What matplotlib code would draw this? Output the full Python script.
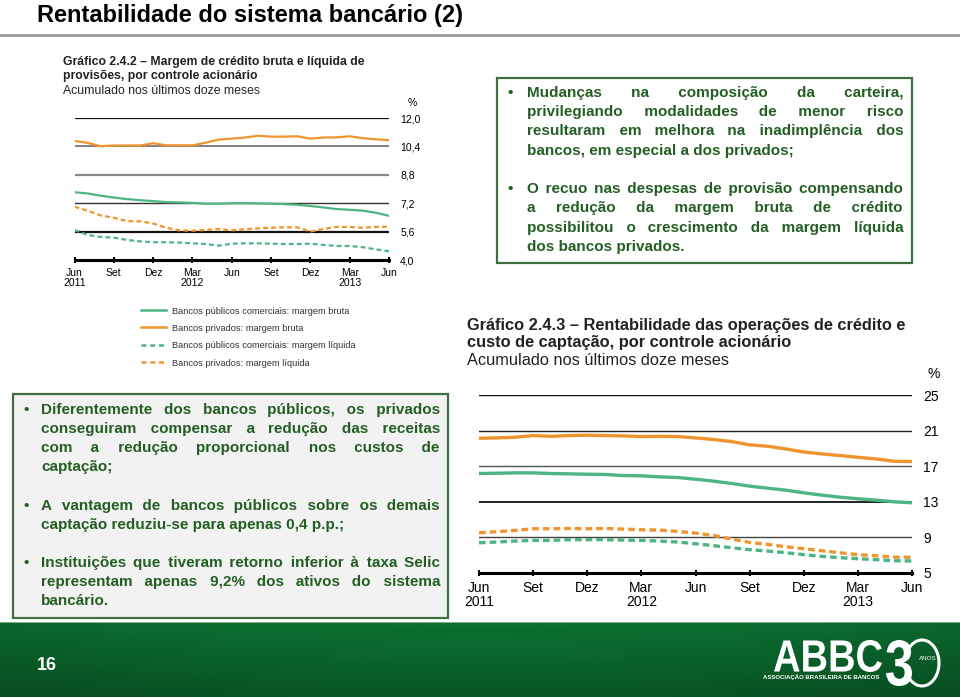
import matplotlib
matplotlib.use('Agg')
import matplotlib.pyplot as plt
import numpy as np
from matplotlib.lines import Line2D
from matplotlib.patches import Rectangle, PathPatch, Arc
from matplotlib.textpath import TextPath
from matplotlib.font_manager import FontProperties
from matplotlib.transforms import Affine2D

plt.rcParams['font.family'] = ['Liberation Sans', 'DejaVu Sans']

W, H = 960, 697

# eixo x comum: meses de jun/2011 a jun/2013
meses = list(range(25))
tick_pos = [0, 3, 6, 9, 12, 15, 18, 21, 24]
tick_labels = ['Jun\n2011', 'Set', 'Dez', 'Mar\n2012', 'Jun', 'Set', 'Dez', 'Mar\n2013', 'Jun']

# Gráfico 2.4.2 - margem de crédito (%)
pub_bruta_242 = [7.82, 7.75, 7.62, 7.52, 7.43, 7.37, 7.32, 7.26, 7.24, 7.22, 7.17, 7.17, 7.20,
                 7.20, 7.19, 7.17, 7.15, 7.11, 7.04, 6.96, 6.87, 6.83, 6.78, 6.66, 6.49]
priv_bruta_242 = [10.71, 10.60, 10.41, 10.45, 10.45, 10.45, 10.58, 10.46, 10.46, 10.46, 10.61, 10.78, 10.84,
                  10.90, 11.00, 10.95, 10.95, 10.97, 10.84, 10.90, 10.91, 10.97, 10.86, 10.80, 10.75]
pub_liq_242 = [5.69, 5.41, 5.30, 5.26, 5.13, 5.05, 5.00, 5.00, 4.98, 4.94, 4.90, 4.81, 4.92,
               4.94, 4.94, 4.92, 4.90, 4.90, 4.92, 4.85, 4.79, 4.79, 4.72, 4.60, 4.49]
priv_liq_242 = [7.00, 6.78, 6.51, 6.38, 6.19, 6.18, 6.06, 5.82, 5.67, 5.65, 5.69, 5.75, 5.67,
                5.73, 5.78, 5.82, 5.84, 5.84, 5.60, 5.75, 5.86, 5.86, 5.82, 5.86, 5.88]
yticks_242 = [4.0, 5.6, 7.2, 8.8, 10.4, 12.0]
ylabels_242 = ['4,0', '5,6', '7,2', '8,8', '10,4', '12,0']

# Gráfico 2.4.3 - rentabilidade e custo de captação (%)
pub_bruta_243 = [16.18, 16.21, 16.25, 16.25, 16.18, 16.14, 16.10, 16.07, 15.95, 15.92, 15.80, 15.73, 15.54,
                 15.32, 15.06, 14.76, 14.53, 14.31, 14.01, 13.75, 13.52, 13.34, 13.19, 13.00, 12.89]
priv_bruta_243 = [20.14, 20.18, 20.25, 20.44, 20.36, 20.44, 20.48, 20.44, 20.40, 20.33, 20.36, 20.33, 20.18,
                  20.00, 19.77, 19.40, 19.24, 18.94, 18.60, 18.38, 18.20, 18.00, 17.82, 17.56, 17.52]
pub_liq_243 = [8.40, 8.48, 8.59, 8.66, 8.66, 8.74, 8.74, 8.74, 8.70, 8.66, 8.59, 8.48, 8.29,
               8.07, 7.84, 7.62, 7.47, 7.28, 7.06, 6.87, 6.72, 6.61, 6.50, 6.38, 6.35]
priv_liq_243 = [9.52, 9.64, 9.79, 9.97, 9.97, 10.01, 9.97, 10.01, 9.93, 9.86, 9.82, 9.67, 9.49,
                9.22, 8.81, 8.44, 8.21, 7.95, 7.73, 7.50, 7.28, 7.06, 6.94, 6.79, 6.76]
yticks_243 = [5, 9, 13, 17, 21, 25]
ylabels_243 = ['5', '9', '13', '17', '21', '25']

legenda = ['Bancos públicos comerciais: margem bruta',
           'Bancos privados: margem bruta',
           'Bancos públicos comerciais: margem líquida',
           'Bancos privados: margem líquida']

VERDE = '#4db584'
LARANJA = '#f0952e'
TXT = '#235e23'
BORDA = '#3f6f3f'


def px(x, y):
    return x / W, 1 - y / H


fig = plt.figure(figsize=(W / 100, H / 100), dpi=100)
T_PX = Affine2D().scale(1 / W, 1 / H) + fig.transFigure


def grafico(ax, series, yticks, ylabels, grades, lw, fs, dash):
    estilos = [(VERDE, '-'), (LARANJA, '-'), (VERDE, dash), (LARANJA, dash)]
    for (v, g) in zip(yticks[1:], grades):
        ax.axhline(v, color=g[0], lw=g[1], zorder=1)
    for s, (c, ls) in zip(series, estilos):
        ax.plot(meses, s, color=c, ls=ls, lw=lw, zorder=3, solid_capstyle='butt')
    ax.set_xlim(0, 24)
    ax.set_ylim(yticks[0], yticks[-1])
    ax.set_xticks(tick_pos)
    ax.set_xticklabels(tick_labels, fontsize=fs, linespacing=1.0)
    ax.set_yticks(yticks)
    ax.set_yticklabels(ylabels, fontsize=fs)
    ax.yaxis.tick_right()
    ax.tick_params(axis='y', length=0, pad=8)
    ax.tick_params(axis='x', direction='inout', length=5, width=1.5, pad=3)
    for sp in ['top', 'left', 'right']:
        ax.spines[sp].set_visible(False)
    ax.spines['bottom'].set_linewidth(2.2)
    ax.patch.set_alpha(0)


# título do slide
fig.text(*px(37, 13), 'Rentabilidade do sistema bancário (2)', fontsize=17, fontweight='bold',
         va='center_baseline', ha='left')
fig.add_artist(Rectangle(px(0, 37), 1, 3 / H, transform=fig.transFigure, color='#a0a0a0', lw=0))

# gráfico 2.4.2
fig.text(*px(63, 60), 'Gráfico 2.4.2 – Margem de crédito bruta e líquida de', fontsize=8.8, fontweight='bold',
         va='center_baseline', color='#222222')
fig.text(*px(63, 74), 'provisões, por controle acionário', fontsize=8.8, fontweight='bold',
         va='center_baseline', color='#222222')
fig.text(*px(63, 89), 'Acumulado nos últimos doze meses', fontsize=8.8, va='center_baseline', color='#222222')
fig.text(*px(412, 102), '%', fontsize=7.5, ha='center', va='center_baseline')
ax1 = fig.add_axes([74.5 / W, 1 - 260 / H, (389 - 74.5) / W, (260 - 118) / H])
grafico(ax1, [pub_bruta_242, priv_bruta_242, pub_liq_242, priv_liq_242], yticks_242, ylabels_242,
        [('#111111', 1.6), ('#333333', 1.0), ('#888888', 1.6), ('#777777', 1.3), ('#111111', 1.6)],
        1.6, 7.5, (0, (2.2, 1.4)))

# legenda
for i, (txt, (c, ls)) in enumerate(zip(legenda, [(VERDE, '-'), (LARANJA, '-'),
                                                 (VERDE, (0, (2, 1.5))), (LARANJA, (0, (2, 1.5)))])):
    y = 310 + i * 17.4
    fig.add_artist(Line2D([141 / W, 166 / W], [1 - y / H] * 2, color=c, ls=ls, lw=1.8,
                          transform=fig.transFigure))
    fig.text(*px(172, y), txt, fontsize=6.7, va='center_baseline', color='#333333')

# gráfico 2.4.3
fig.text(*px(467, 324), 'Gráfico 2.4.3 – Rentabilidade das operações de crédito e', fontsize=11.8,
         fontweight='bold', va='center_baseline', color='#222222')
fig.text(*px(467, 341), 'custo de captação, por controle acionário', fontsize=11.8, fontweight='bold',
         va='center_baseline', color='#222222')
fig.text(*px(467, 359), 'Acumulado nos últimos doze meses', fontsize=11.8, va='center_baseline',
         color='#222222')
fig.text(*px(934, 372), '%', fontsize=10, ha='center', va='center_baseline')
ax2 = fig.add_axes([479 / W, 1 - 573 / H, (912 - 479) / W, (573 - 395) / H])
grafico(ax2, [pub_bruta_243, priv_bruta_243, pub_liq_243, priv_liq_243], yticks_243, ylabels_243,
        [('#444444', 1.0), ('#111111', 1.3), ('#555555', 1.0), ('#222222', 1.0), ('#111111', 1.0)],
        2.4, 10, (0, (2.0, 1.2)))


# caixas de texto justificado
def caixa(x0, y0, x1, y1, cor):
    fig.add_artist(Rectangle(px(x0, y1), (x1 - x0) / W, (y1 - y0) / H, transform=fig.transFigure,
                             facecolor=cor, edgecolor=BORDA, lw=1.6, zorder=0))


HAIR = '\u200a'


def justificado(paragrafos, ys, xa, xb, xbul, fs):
    # cada linha é um único texto; o justificado é feito com espaços finos extras
    ren = fig.canvas.get_renderer()
    kw = dict(fontsize=fs, fontweight='bold', color=TXT, va='baseline', ha='left')

    def larg(s):
        t = fig.text(0, 0, s, **kw)
        w = t.get_window_extent(ren).width
        t.remove()
        return w

    hw = (larg('a' + HAIR * 20 + 'a') - larg('aa')) / 20
    for linhas, yy in zip(paragrafos, ys):
        fig.text(*px(xbul, yy[0] + 4), '•', **kw)
        for i, (linha, y) in enumerate(zip(linhas, yy)):
            pal = linha.split()
            if i < len(linhas) - 1 and len(pal) > 1 and hw > 0:
                extra = (xb - xa) - larg(linha)
                por_gap = extra / (len(pal) - 1)
                s = pal[0]
                feito = 0
                for k, p in enumerate(pal[1:], start=1):
                    n = int(round(k * por_gap / hw)) - feito
                    feito += n
                    s += ' ' + HAIR * max(n, 0) + p
                linha = s
            fig.text(*px(xa, y + 4), linha, **kw)


caixa(497, 78, 912, 263, 'white')
justificado([["Mudanças na composição da carteira,",
              "privilegiando modalidades de menor risco",
              "resultaram em melhora na inadimplência dos",
              "bancos, em especial a dos privados;"],
             ["O recuo nas despesas de provisão compensando",
              "a redução da margem bruta de crédito",
              "possibilitou o crescimento da margem líquida",
              "dos bancos privados."]],
            [[93, 112, 131, 151], [189, 208, 228, 247]], 527, 903, 508, 11)

caixa(13, 394, 448, 618, '#f2f2f2')
justificado([["Diferentemente dos bancos públicos, os privados",
              "conseguiram compensar a redução das receitas",
              "com a redução proporcional nos custos de",
              "captação;"],
             ["A vantagem de bancos públicos sobre os demais",
              "captação reduziu-se para apenas 0,4 p.p.;"],
             ["Instituições que tiveram retorno inferior à taxa Selic",
              "representam apenas 9,2% dos ativos do sistema",
              "bancário."]],
            [[410, 429, 448, 467], [506, 525], [563, 582, 601]], 41, 440, 24, 11)

# rodapé verde
axf = fig.add_axes([0, 0, 1, 75 / H])
gy = np.linspace(0, 1, 60)[:, None]
gx = np.linspace(0, 1, 200)[None, :]
topo = np.array([12, 112, 50]) / 255
base = np.array([8, 84, 36]) / 255
brilho = 0.92 + 0.1 * np.sin(np.pi * gx)
img = (topo[None, None, :] * (1 - gy[..., None]) + base[None, None, :] * gy[..., None]) * brilho[..., None]
axf.imshow(np.clip(img, 0, 1), aspect='auto', extent=[0, 1, 0, 1])
axf.axis('off')
fig.add_artist(Rectangle(px(0, 623), 1, 1.5 / H, transform=fig.transFigure, color='#7fa98e', lw=0))
fig.text(*px(47, 664), '16', fontsize=13, fontweight='bold', color='white', ha='center',
         va='center_baseline')

# logotipo
FP_BOLD = FontProperties(family='Liberation Sans', weight='bold')


def texto_caixa(s, x0, y0, x1, y1):
    tp = TextPath((0, 0), s, size=1, prop=FP_BOLD)
    bb = tp.get_extents()
    t = (Affine2D().translate(-bb.x0, -bb.y0).scale((x1 - x0) / bb.width, (y1 - y0) / bb.height)
         .translate(x0, H - y1) + T_PX)
    fig.add_artist(PathPatch(tp, transform=t, facecolor='white', lw=0))


texto_caixa('ABBC', 774, 640, 882, 672)
fig.text(*px(821, 677), 'ASSOCIAÇÃO BRASILEIRA DE BANCOS', fontsize=4.3, fontweight='bold',
         color='white', ha='center', va='center')
texto_caixa('3', 886, 640, 912, 686)
fig.add_artist(Arc(px(922, 663), 34 / W, 46 / H, theta1=-130, theta2=160, color='white', lw=2.2,
                   transform=fig.transFigure))
fig.text(*px(928, 658), 'ANOS', fontsize=4.5, color='white', ha='center', va='center')

fig.savefig('out.png', dpi=100)
